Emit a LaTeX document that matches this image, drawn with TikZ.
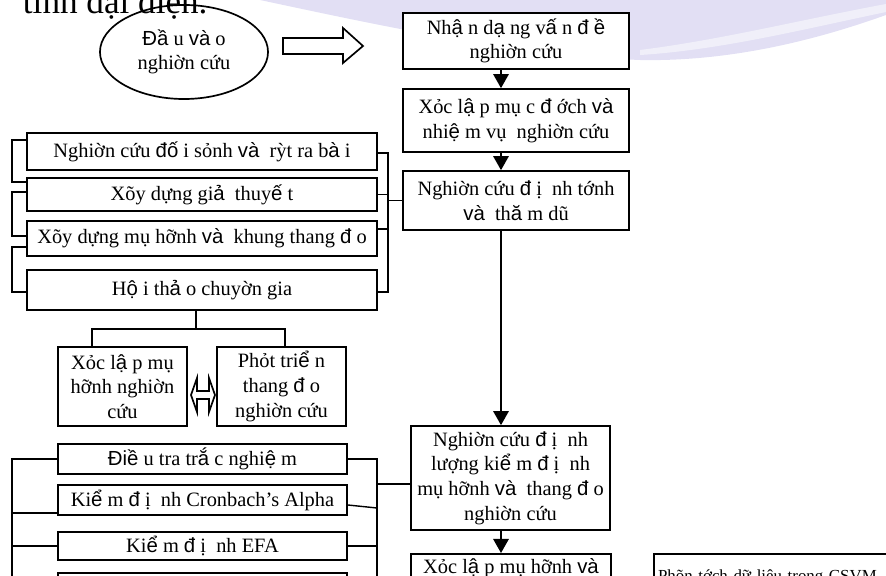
\documentclass[tikz,border=0pt]{standalone}
\usepackage{fontspec}
\setmainfont{Liberation Serif}
\newfontfamily\altsans{Liberation Sans}
\newcommand{\sv}[1]{{\altsans #1}}
\usetikzlibrary{arrows.meta}
\usetikzlibrary{shapes.geometric}
\definecolor{lavender}{RGB}{206,202,236}

\begin{document}
\begin{tikzpicture}[x=0.025cm,y=-0.025cm,
  box/.style={draw,line width=1.2pt,fill=white,align=center,inner sep=1pt,font=\fontsize{14.5}{17.5}\selectfont},
  link/.style={line width=1pt},
  flow/.style={line width=1.2pt,-{Triangle[width=11pt,length=10pt]}}]
\useasboundingbox (0,0) rectangle (886,576);
\clip (0,0) rectangle (886,576);

\fill[lavender,opacity=0.6] (260,0) .. controls (400,30) and (520,55) .. (640,60) .. controls (740,62) and (830,35) .. (886,15) -- (886,0) -- cycle;
\fill[white,opacity=0.5] (640,50) .. controls (720,40) and (800,20) .. (886,4) -- (886,12) .. controls (800,30) and (720,50) .. (640,55) -- cycle;
\node[anchor=base west,font=\fontsize{25}{30}\selectfont] (title) at (18,14) {tính đại diện.};

\node[draw,ellipse,line width=1.2pt,minimum width=4.2cm,minimum height=2.35cm,align=center,inner sep=0pt,font=\fontsize{14.5}{17.5}\selectfont] (entry) at (184,52) {\sv{Đầ} u \sv{và} o\\nghiờn cứu};
\draw[line width=1.2pt] (283,38) -- (343,38) -- (343,28) -- (363,46) -- (343,63) -- (343,54) -- (283,54) -- cycle;

\node[box,minimum width=5.65cm,minimum height=1.4cm] (idProb) at (516,41) {Nh\sv{ậ} n d\sv{ạ} ng v\sv{ấ} n \sv{đ} \sv{ề}\\nghiờn cứu};
\node[box,minimum width=5.65cm,minimum height=1.575cm] (setGoal) at (516,120.5) {Xỏc l\sv{ậ} p mụ c \sv{đ} ớch \sv{và}\\nhi\sv{ệ} m vụ~ nghiờn cứu};
\node[box,minimum width=5.65cm,minimum height=1.475cm] (qualStudy) at (516,200.5) {Nghiờn cứu \sv{đ} ị~ nh tớnh\\\sv{và}~ th\sv{ă} m dũ};
\node[box,minimum width=4.975cm,minimum height=2.6cm] (quantStudy) at (510.5,478) {Nghiờn cứu \sv{đ} ị~ nh\\lượng ki\sv{ể} m \sv{đ} ị~ nh\\mụ hỡnh \sv{và}~ thang \sv{đ} o\\nghiờn cứu};
\node[box,anchor=north,minimum width=5cm,text height=10pt,text depth=1cm,inner ysep=4pt] (setModel) at (511,553) {Xỏc l\sv{ậ} p mụ hỡnh \sv{và}};
\node[box,anchor=north west,text width=9cm,align=left,text height=8pt,text depth=1cm,inner ysep=11.5pt,inner xsep=3pt,font=\fontsize{12}{14}\selectfont] (analyse) at (653,553) {Phõn tớch dữ liệu trong CSVM};

\coordinate (spine) at (501,0);
\draw[flow] (idProb.south -| spine) -- (setGoal.north -| spine);
\draw[flow] (setGoal.south -| spine) -- (qualStudy.north -| spine);
\draw[flow] (qualStudy.south -| spine) -- (quantStudy.north -| spine);
\draw[flow] (quantStudy.south -| spine) -- (setModel.north -| spine);

% qualitative steps
\node[box,minimum width=8.75cm,minimum height=0.925cm] (compare) at (202,151.5) {Nghiờn cứu \sv{đố} i sỏnh \sv{và}~ rỳt ra b\sv{à} i};
\node[box,minimum width=8.75cm,minimum height=0.825cm] (hypo) at (202,194.5) {Xõy dựng gi\sv{ả}~ thuy\sv{ế} t};
\node[box,minimum width=8.75cm,minimum height=0.875cm] (frame) at (202,238.5) {Xõy dựng mụ hỡnh \sv{và}~ khung thang \sv{đ} o};
\node[box,minimum width=8.75cm,minimum height=1cm] (expert) at (202,290) {H\sv{ộ} i th\sv{ả} o chuyờn gia};
\node[box,minimum width=3.225cm,minimum height=1.975cm] (model) at (122.5,386.5) {Xỏc l\sv{ậ} p mụ\\hỡnh nghiờn\\cứu};
\node[box,minimum width=3.225cm,minimum height=1.975cm] (scale) at (281.5,386.5) {Phỏt tri\sv{ể} n\\thang \sv{đ} o\\nghiờn cứu};
\draw[line width=1.2pt] (191,395) -- (197,378) -- (197,391) -- (209,391) -- (209,378) -- (215,395) -- (209,412) -- (209,399) -- (197,399) -- (197,412) -- cycle;

\draw[link] (compare.west |- 0,140) -- (12,140) -- (12,182) -- (hypo.west |- 0,182);
\draw[link] (hypo.west |- 0,192) -- (12,192) -- (12,236) -- (frame.west |- 0,236);
\draw[link] (frame.west |- 0,247) -- (12,247) -- (12,292) -- (expert.west |- 0,292);
\draw[link] (compare.east |- 0,153) -- (388,153) -- (388,292) -- (expert.east |- 0,292);
\draw[link] (hypo.east) -- (hypo.east -| 388,0);
\draw[link] (frame.east |- 0,229) -- (388,229);
\draw[link] (qualStudy.west -| 388,0) -- (qualStudy.west);
\draw[link] (expert.south -| 196,0) -- (196,329);
\draw[link] (model.north -| 92,0) -- (92,329) -- (285,329) -- (scale.north -| 285,0);

% quantitative steps
\node[box,minimum width=7.225cm,minimum height=0.75cm] (survey) at (202.5,459) {\sv{Điề} u tra tr\sv{ắ} c nghi\sv{ệ} m};
\node[box,minimum width=7.225cm,minimum height=0.75cm] (alpha) at (202.5,500) {Ki\sv{ể} m \sv{đ} ị~ nh Cronbach’s Alpha};
\node[box,minimum width=7.225cm,minimum height=0.7cm] (efa) at (202.5,546) {Ki\sv{ể} m \sv{đ} ị~ nh EFA};
\node[box,anchor=north,minimum width=7.225cm,minimum height=0.75cm] (nextTest) at (202.5,572) {};

\draw[link] (survey.west) -- (survey.west -| 12,0) -- (12,600);
\draw[link] (alpha.west |- 0,513) -- (12,513);
\draw[link] (efa.west) -- (efa.west -| 12,0);
\draw[link] (survey.east) -- (survey.east -| 377,0) -- (377,600);
\draw[link] (alpha.east |- 0,505) -- (377,508);
\draw[link] (efa.east) -- (efa.east -| 377,0);
\draw[link] (377,484) -- (quantStudy.west |- 0,484);

\end{tikzpicture}
\end{document}
